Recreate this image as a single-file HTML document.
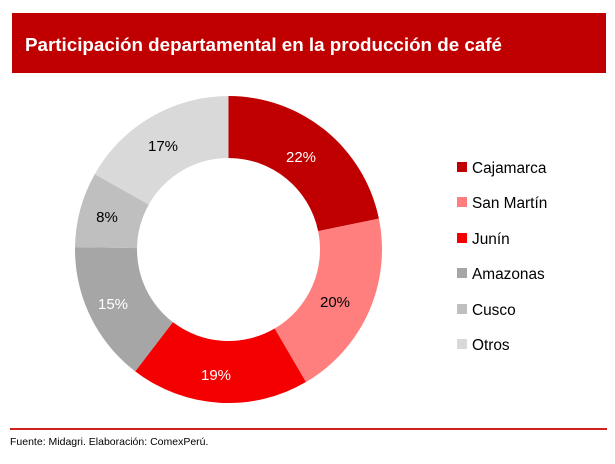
<!DOCTYPE html>
<html><head><meta charset="utf-8"><style>
html,body{margin:0;padding:0;background:#fff;}
body{width:615px;height:459px;overflow:hidden;font-family:"Liberation Sans",Arial,sans-serif;}
</style></head><body>
<svg id="s" width="615" height="459" xmlns="http://www.w3.org/2000/svg" font-family="Liberation Sans, Arial, sans-serif">
<rect x="12" y="13" width="594" height="60" fill="#c00000"/>
<text x="25" y="51" font-size="18.8" font-weight="bold" fill="#fff">Participación departamental en la producción de café</text>
<g id="d"></g>
<g font-size="15" text-anchor="middle">
<text x="301" y="162" fill="#fff">22%</text>
<text x="335" y="307" fill="#000">20%</text>
<text x="216" y="380" fill="#fff">19%</text>
<text x="113" y="309" fill="#fff">15%</text>
<text x="107" y="222" fill="#000">8%</text>
<text x="163" y="151" fill="#000">17%</text>
</g>
<g font-size="15.4" fill="#000">
<rect x="457" y="162" width="10" height="10" fill="#c00000"/><text x="472" y="173">Cajamarca</text>
<rect x="457" y="197" width="10" height="10" fill="#ff7f7f"/><text x="472" y="208">San Martín</text>
<rect x="457" y="233" width="10" height="10" fill="#f50000"/><text x="472" y="244">Junín</text>
<rect x="457" y="268" width="10" height="10" fill="#a6a6a6"/><text x="472" y="279">Amazonas</text>
<rect x="457" y="304" width="10" height="10" fill="#bfbfbf"/><text x="472" y="315">Cusco</text>
<rect x="457" y="339" width="10" height="10" fill="#d9d9d9"/><text x="472" y="350">Otros</text>
</g>
<rect x="10" y="428" width="597" height="2" fill="#d02020"/>
<text x="10" y="445" font-size="10.5" fill="#000">Fuente: Midagri. Elaboración: ComexPerú.</text>
</svg>
<script>
var v=[22,20,19,15,8,17],c=["#c00000","#ff7f7f","#f50000","#a6a6a6","#bfbfbf","#d9d9d9"];
var cx=228.5,cy=249.5,R=153.5,r=91.5,t=0,s=101,g=document.getElementById("d"),h="";
function p(a,rr){return [cx+rr*Math.sin(a),cy-rr*Math.cos(a)];}
for(var i=0;i<6;i++){var a0=t/s*2*Math.PI;t+=v[i];var a1=t/s*2*Math.PI;var l=(a1-a0)>Math.PI?1:0;
var A=p(a0,R),B=p(a1,R),C=p(a1,r),D=p(a0,r);
h+='<path fill="'+c[i]+'" d="M'+A+' A'+R+','+R+' 0 '+l+' 1 '+B+' L'+C+' A'+r+','+r+' 0 '+l+' 0 '+D+'Z"/>';}
g.innerHTML=h;
</script>
</body></html>
